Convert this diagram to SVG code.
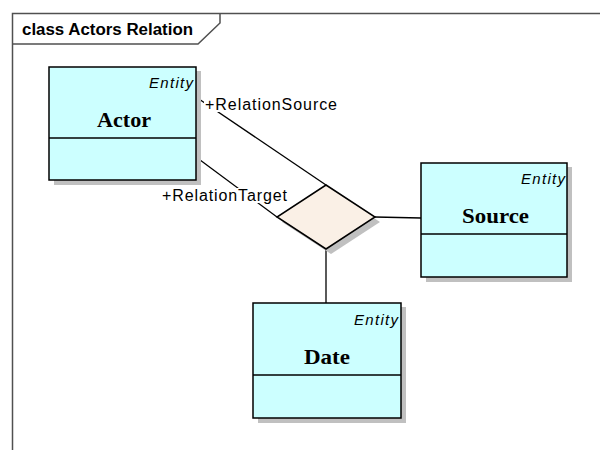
<svg xmlns="http://www.w3.org/2000/svg" width="600" height="450" viewBox="0 0 600 450">
<style>
.frame{fill:none;stroke:#505050;stroke-width:1.5}
.shadow{fill:#c0c0c0;stroke:none}
.box{fill:#ccffff;stroke:#000;stroke-width:1.5}
.div{stroke:#000;stroke-width:1.5}
.stereo{font-family:"Liberation Sans",Arial,sans-serif;font-style:italic;font-size:15px;text-anchor:end;fill:#000}
.name{font-family:"Liberation Serif","Times New Roman",serif;font-weight:bold;font-size:21px;text-anchor:middle;fill:#000}
.conn{stroke:#000;stroke-width:1.3;fill:none}
.lbl{font-family:"Liberation Sans",Arial,sans-serif;font-size:16px;fill:#000}
.title{font-family:"Liberation Sans",Arial,sans-serif;font-weight:bold;font-size:16px;fill:#000}
</style>
<rect width="600" height="450" fill="#fff"/>
<g id="frame">
<path class="frame" d="M12.5,450 V13.5 H600"/>
<path class="frame" d="M12.5,44 H198 L220,23 V13.5"/>
<text class="title" x="22" y="35" textLength="171" lengthAdjust="spacingAndGlyphs">class Actors Relation</text>
</g>
<g id="connectors">
<line class="conn" x1="196" y1="97" x2="326" y2="185"/>
<line class="conn" x1="196" y1="157" x2="277" y2="217"/>
<line class="conn" x1="375" y1="217" x2="421" y2="218"/>
<line class="conn" x1="326" y1="249" x2="326" y2="303"/>
<rect x="204" y="97" width="134" height="15" fill="#fff"/>
<text class="lbl" x="205" y="110" textLength="132" lengthAdjust="spacing">+RelationSource</text>
<rect x="160" y="188" width="129" height="15" fill="#fff"/>
<text class="lbl" x="162" y="201" textLength="125" lengthAdjust="spacing">+RelationTarget</text>
</g>
<g id="relation">
<polygon class="shadow" points="331,190 380,222 331,254 282,222"/>
<polygon points="326,185 375,217 326,249 277,217" fill="#faf0e6" stroke="#000" stroke-width="1.5"/>
</g>
<g id="actor">
<rect class="shadow" x="54" y="71" width="147" height="114"/>
<rect class="box" x="49" y="67" width="147" height="113"/>
<line class="div" x1="49" y1="138" x2="196" y2="138"/>
<text class="stereo" x="193" y="88" textLength="44" lengthAdjust="spacing">Entity</text>
<text class="name" x="124" y="127" textLength="54" lengthAdjust="spacingAndGlyphs">Actor</text>
</g>
<g id="source">
<rect class="shadow" x="426" y="167" width="146" height="115"/>
<rect class="box" x="421" y="163" width="146" height="114"/>
<line class="div" x1="421" y1="234" x2="567" y2="234"/>
<text class="stereo" x="565" y="184" textLength="44" lengthAdjust="spacing">Entity</text>
<text class="name" x="495.5" y="223" textLength="67" lengthAdjust="spacingAndGlyphs">Source</text>
</g>
<g id="date">
<rect class="shadow" x="258" y="307" width="148" height="116"/>
<rect class="box" x="253" y="303" width="148" height="115"/>
<line class="div" x1="253" y1="375" x2="401" y2="375"/>
<text class="stereo" x="398" y="325" textLength="44" lengthAdjust="spacing">Entity</text>
<text class="name" x="327" y="364" textLength="46" lengthAdjust="spacingAndGlyphs">Date</text>
</g>
</svg>
